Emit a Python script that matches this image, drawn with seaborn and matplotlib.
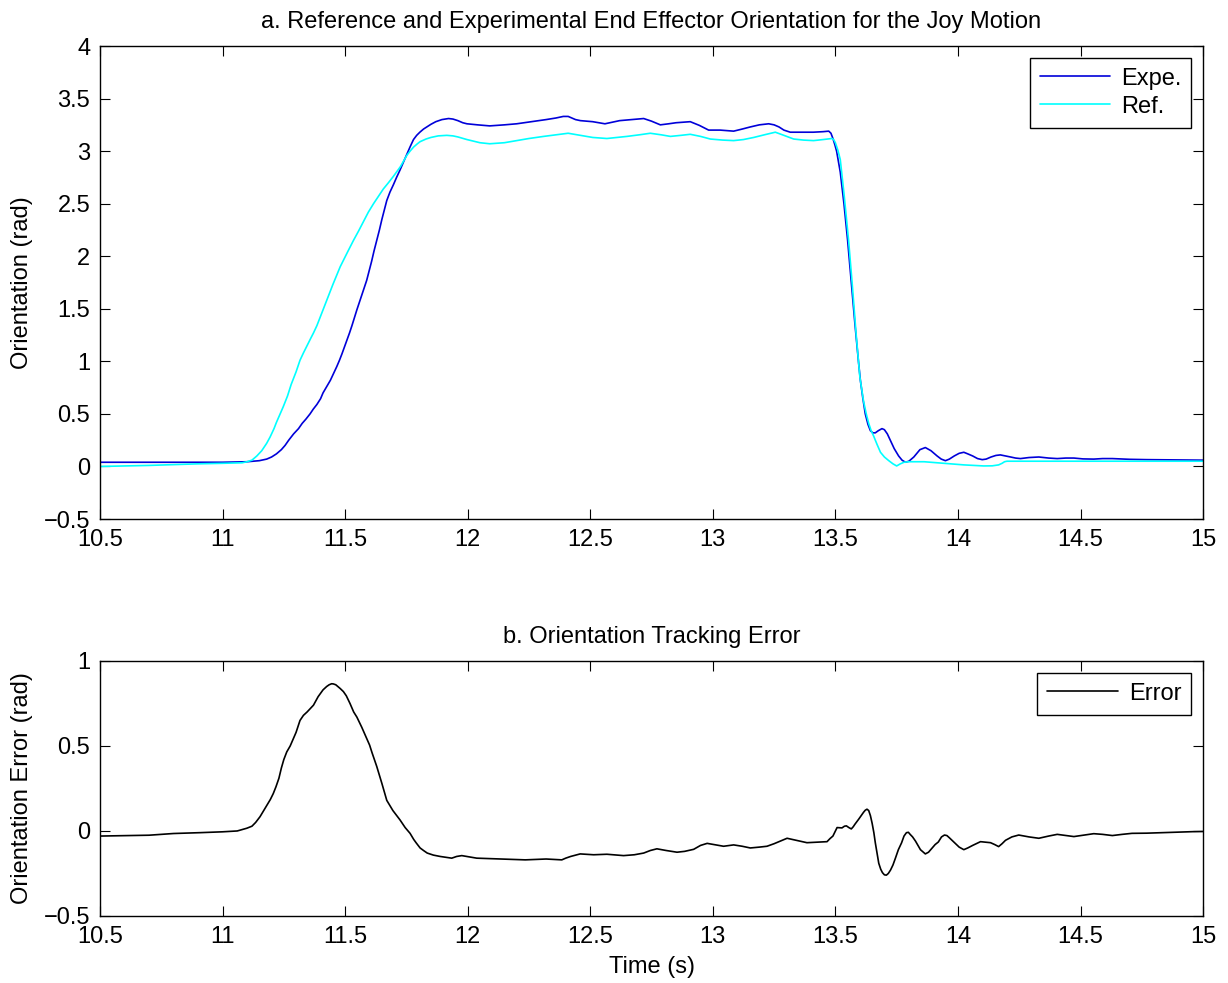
import numpy as np
import pandas as pd
import matplotlib
matplotlib.use("Agg")
import matplotlib.pyplot as plt
import seaborn as sns

# ---- Reference orientation (rad) ----
ref_t = [10.5, 10.7, 10.9, 11.0, 11.08, 11.10, 11.12, 11.14, 11.16, 11.18, 11.194, 11.21,
         11.22, 11.235, 11.248, 11.265, 11.28, 11.30, 11.316, 11.33, 11.345, 11.36, 11.371,
         11.385, 11.40, 11.425, 11.45, 11.48, 11.51, 11.534, 11.555, 11.575, 11.595, 11.616,
         11.636, 11.656, 11.677, 11.697, 11.725, 11.752, 11.765, 11.78, 11.795, 11.806, 11.83,
         11.85, 11.88, 11.915, 11.94, 11.96, 11.997, 12.05, 12.09, 12.15, 12.2, 12.25,
         12.31, 12.36, 12.41, 12.46, 12.51, 12.568, 12.65, 12.70, 12.745, 12.79, 12.827,
         12.87, 12.908, 12.95, 12.99, 13.04, 13.085, 13.125, 13.167, 13.21, 13.255, 13.29,
         13.33, 13.37, 13.411, 13.45, 13.486, 13.493, 13.50, 13.51, 13.52, 13.535, 13.554,
         13.57, 13.585, 13.60, 13.615, 13.626, 13.636, 13.646, 13.656, 13.67, 13.684, 13.70,
         13.718, 13.735, 13.75, 13.765, 13.78, 13.80, 13.862, 13.943, 14.024, 14.105, 14.14,
         14.166, 14.18, 14.19, 14.2, 14.3, 14.5, 14.75, 15.0]
ref_v = [0.00, 0.01, 0.025, 0.03, 0.035, 0.045, 0.06, 0.10, 0.15, 0.22, 0.28, 0.36,
         0.42, 0.50, 0.57, 0.67, 0.78, 0.90, 1.01, 1.08, 1.15, 1.22, 1.27,
         1.34, 1.43, 1.58, 1.73, 1.90, 2.04, 2.15, 2.24, 2.33, 2.42, 2.50,
         2.57, 2.64, 2.70, 2.76, 2.85, 2.96, 3.00, 3.04, 3.07, 3.09, 3.115,
         3.13, 3.145, 3.15, 3.145, 3.135, 3.11, 3.08, 3.07, 3.08, 3.10, 3.12,
         3.14, 3.155, 3.17, 3.15, 3.13, 3.12, 3.14, 3.155, 3.17, 3.155, 3.14,
         3.15, 3.16, 3.14, 3.115, 3.105, 3.10, 3.11, 3.13, 3.155, 3.18, 3.15,
         3.115, 3.105, 3.10, 3.11, 3.12, 3.11, 3.08, 3.01, 2.92, 2.60, 2.15,
         1.70, 1.25, 0.85, 0.62, 0.50, 0.41, 0.34, 0.29, 0.21, 0.135, 0.09,
         0.055, 0.025, 0.005, 0.025, 0.04, 0.045, 0.045, 0.03, 0.015, 0.005, 0.006,
         0.015, 0.03, 0.045, 0.05, 0.05, 0.05, 0.05, 0.05]

# ---- Experimental orientation (rad) ----
exp_t = [10.5, 10.8, 11.0, 11.1, 11.15, 11.18, 11.20, 11.22, 11.24, 11.255, 11.27, 11.29,
         11.31, 11.325, 11.34, 11.357, 11.37, 11.385, 11.40, 11.41, 11.425, 11.44, 11.453,
         11.466, 11.477, 11.487, 11.497, 11.507, 11.518, 11.528, 11.538, 11.548, 11.558, 11.568,
         11.578, 11.588, 11.598, 11.608, 11.618, 11.629, 11.64, 11.65, 11.66, 11.67, 11.683,
         11.697, 11.71, 11.724, 11.737, 11.75, 11.765, 11.779, 11.792, 11.805, 11.82, 11.833,
         11.85, 11.87, 11.895, 11.922, 11.94, 11.96, 11.98, 11.997, 12.04, 12.09, 12.15,
         12.2, 12.26, 12.32, 12.36, 12.39, 12.41, 12.425, 12.44, 12.46, 12.51, 12.56,
         12.59, 12.62, 12.67, 12.718, 12.75, 12.786, 12.82, 12.85, 12.908, 12.945, 12.983,
         13.03, 13.085, 13.12, 13.153, 13.19, 13.228, 13.25, 13.27, 13.29, 13.316, 13.36,
         13.41, 13.45, 13.473, 13.482, 13.49, 13.498, 13.505, 13.52, 13.535, 13.55, 13.565,
         13.58, 13.595, 13.602, 13.612, 13.622, 13.633, 13.643, 13.653, 13.663, 13.675, 13.69,
         13.70, 13.712, 13.724, 13.74, 13.758, 13.772, 13.786, 13.80, 13.82, 13.845, 13.867,
         13.89, 13.915, 13.932, 13.949, 13.965, 13.985, 14.005, 14.024, 14.04, 14.06, 14.08,
         14.099, 14.115, 14.135, 14.155, 14.173, 14.195, 14.215, 14.235, 14.255, 14.29, 14.33,
         14.37, 14.405, 14.44, 14.473, 14.51, 14.554, 14.59, 14.63, 14.7, 14.77, 14.88, 15.0]
exp_v = [0.04, 0.04, 0.04, 0.045, 0.055, 0.07, 0.09, 0.12, 0.16, 0.20, 0.25, 0.31,
         0.36, 0.41, 0.45, 0.50, 0.545, 0.59, 0.645, 0.70, 0.76, 0.82, 0.885,
         0.95, 1.01, 1.07, 1.135, 1.20, 1.27, 1.34, 1.415, 1.49, 1.56, 1.63,
         1.70, 1.77, 1.86, 1.95, 2.05, 2.15, 2.25, 2.35, 2.44, 2.53, 2.61,
         2.68, 2.75, 2.82, 2.89, 2.96, 3.04, 3.11, 3.15, 3.18, 3.21, 3.23,
         3.255, 3.28, 3.30, 3.31, 3.305, 3.29, 3.27, 3.26, 3.25, 3.24, 3.25,
         3.26, 3.28, 3.30, 3.315, 3.33, 3.33, 3.315, 3.30, 3.29, 3.28, 3.26,
         3.275, 3.29, 3.30, 3.31, 3.285, 3.25, 3.26, 3.27, 3.28, 3.245, 3.20,
         3.20, 3.19, 3.21, 3.23, 3.25, 3.26, 3.25, 3.23, 3.20, 3.18, 3.18,
         3.18, 3.185, 3.19, 3.17, 3.12, 3.06, 3.00, 2.80, 2.50, 2.15, 1.75,
         1.35, 0.98, 0.82, 0.65, 0.50, 0.40, 0.34, 0.32, 0.32, 0.34, 0.36,
         0.35, 0.31, 0.25, 0.17, 0.10, 0.06, 0.04, 0.05, 0.09, 0.16, 0.18,
         0.15, 0.10, 0.07, 0.055, 0.07, 0.10, 0.125, 0.135, 0.12, 0.10, 0.075,
         0.065, 0.07, 0.09, 0.105, 0.11, 0.10, 0.09, 0.08, 0.075, 0.085, 0.09,
         0.08, 0.075, 0.08, 0.08, 0.072, 0.07, 0.075, 0.075, 0.068, 0.065, 0.063, 0.06]

# ---- Tracking error (rad) ----
err_t = [10.5, 10.7, 10.8, 10.908, 11.0, 11.06, 11.099, 11.12, 11.135, 11.153, 11.168, 11.18,
         11.195, 11.207, 11.218, 11.23, 11.24, 11.25, 11.262, 11.276, 11.288, 11.30, 11.316,
         11.33, 11.345, 11.358, 11.371, 11.39, 11.41, 11.425, 11.435, 11.445, 11.452, 11.462,
         11.47, 11.48, 11.493, 11.505, 11.52, 11.535, 11.548, 11.568, 11.588, 11.60, 11.61,
         11.629, 11.65, 11.67, 11.695, 11.724, 11.745, 11.765, 11.78, 11.79, 11.806, 11.82,
         11.835, 11.86, 11.888, 11.935, 11.955, 11.976, 12.037, 12.13, 12.235, 12.32, 12.384,
         12.40, 12.42, 12.459, 12.514, 12.568, 12.636, 12.68, 12.718, 12.745, 12.772, 12.81,
         12.854, 12.885, 12.922, 12.95, 12.977, 13.044, 13.085, 13.12, 13.153, 13.19, 13.221,
         13.25, 13.276, 13.303, 13.34, 13.384, 13.466, 13.478, 13.49, 13.507, 13.527, 13.537,
         13.545, 13.555, 13.565, 13.573, 13.58, 13.595, 13.605, 13.615, 13.622, 13.629, 13.636,
         13.643, 13.650, 13.657, 13.663, 13.67, 13.677, 13.685, 13.692, 13.70, 13.708, 13.716,
         13.725, 13.735, 13.745, 13.757, 13.77, 13.78, 13.79, 13.798, 13.805, 13.815, 13.827,
         13.847, 13.867, 13.88, 13.895, 13.907, 13.92, 13.933, 13.945, 13.955, 13.965, 13.983,
         14.005, 14.024, 14.04, 14.06, 14.092, 14.133, 14.15, 14.166, 14.18, 14.194, 14.22,
         14.248, 14.29, 14.33, 14.37, 14.405, 14.44, 14.473, 14.51, 14.554, 14.59, 14.63,
         14.67, 14.71, 14.77, 14.83, 14.9, 14.96, 15.0]
err_v = [-0.03, -0.025, -0.015, -0.01, -0.005, 0.0, 0.016, 0.028, 0.05, 0.084, 0.12, 0.15,
         0.185, 0.22, 0.26, 0.31, 0.37, 0.42, 0.465, 0.50, 0.54, 0.58, 0.65,
         0.68, 0.70, 0.72, 0.74, 0.79, 0.83, 0.85, 0.86, 0.866, 0.865, 0.86,
         0.85, 0.838, 0.82, 0.795, 0.75, 0.70, 0.67, 0.61, 0.545, 0.505, 0.46,
         0.38, 0.28, 0.18, 0.12, 0.065, 0.02, -0.014, -0.05, -0.07, -0.10, -0.115,
         -0.13, -0.142, -0.15, -0.16, -0.15, -0.145, -0.16, -0.165, -0.17, -0.165, -0.17,
         -0.16, -0.15, -0.135, -0.14, -0.137, -0.145, -0.14, -0.13, -0.115, -0.105, -0.115,
         -0.125, -0.12, -0.108, -0.085, -0.073, -0.09, -0.082, -0.09, -0.10, -0.095, -0.09,
         -0.075, -0.059, -0.043, -0.055, -0.069, -0.063, -0.045, -0.03, 0.02, 0.018, 0.028,
         0.03, 0.02, 0.012, 0.025, 0.04, 0.069, 0.09, 0.11, 0.122, 0.128, 0.12,
         0.09, 0.045, -0.01, -0.07, -0.13, -0.19, -0.225, -0.245, -0.258, -0.26, -0.25,
         -0.23, -0.20, -0.16, -0.11, -0.07, -0.03, -0.01, -0.008, -0.02, -0.035, -0.06,
         -0.11, -0.135, -0.125, -0.10, -0.08, -0.065, -0.035, -0.024, -0.027, -0.04, -0.065,
         -0.095, -0.11, -0.10, -0.085, -0.063, -0.069, -0.08, -0.092, -0.075, -0.055, -0.035,
         -0.024, -0.035, -0.043, -0.03, -0.02, -0.027, -0.033, -0.025, -0.016, -0.02, -0.027,
         -0.02, -0.014, -0.013, -0.01, -0.007, -0.004, -0.003]

x_ticks = [10.5, 11, 11.5, 12, 12.5, 13, 13.5, 14, 14.5, 15]
x_tick_labels = ["10.5", "11", "11.5", "12", "12.5", "13", "13.5", "14", "14.5", "15"]
top_y_ticks = [-0.5, 0, 0.5, 1, 1.5, 2, 2.5, 3, 3.5, 4]
top_y_tick_labels = ["\u22120.5", "0", "0.5", "1", "1.5", "2", "2.5", "3", "3.5", "4"]
bot_y_ticks = [-0.5, 0, 0.5, 1]
bot_y_tick_labels = ["\u22120.5", "0", "0.5", "1"]

sns.set_style("ticks")
plt.rcParams['font.family'] = ['Liberation Sans', 'DejaVu Sans']
plt.rcParams['axes.edgecolor'] = 'black'
plt.rcParams['xtick.color'] = 'black'
plt.rcParams['ytick.color'] = 'black'
plt.rcParams['text.color'] = 'black'
plt.rcParams['axes.labelcolor'] = 'black'

FS = 17
BLUE = (0.0, 0.0, 0.85)
CYAN = (0.0, 1.0, 1.0)

fig = plt.figure(figsize=(12.28, 9.83), dpi=100)
ax1 = fig.add_axes([0.0814, 0.472, 0.8983, 0.4812])
ax2 = fig.add_axes([0.0814, 0.0682, 0.8983, 0.2594])

df_exp = pd.DataFrame({"t": exp_t, "v": exp_v})
df_ref = pd.DataFrame({"t": ref_t, "v": ref_v})
df_err = pd.DataFrame({"t": err_t, "v": err_v})

sns.lineplot(data=df_exp, x="t", y="v", color=BLUE, lw=1.2, label="Expe.", ax=ax1)
sns.lineplot(data=df_ref, x="t", y="v", color=CYAN, lw=1.2, label="Ref.", ax=ax1)
sns.lineplot(data=df_err, x="t", y="v", color="black", lw=1.2, label="Error", ax=ax2)

def style_axes(ax, yticks, ylabels, ylim):
    ax.set_xlim(10.5, 15)
    ax.set_ylim(*ylim)
    ax.set_xticks(x_ticks)
    ax.set_xticklabels(x_tick_labels)
    ax.set_yticks(yticks)
    ax.set_yticklabels(ylabels)
    ax.tick_params(direction="in", length=7.5, width=0.8, labelsize=FS,
                   top=True, right=True, pad=7)
    for sp in ax.spines.values():
        sp.set_visible(True)
        sp.set_linewidth(1.0)
        sp.set_color("black")
    leg = ax.legend(loc="upper right", fancybox=False, edgecolor="black",
                    framealpha=1, fontsize=FS, handlelength=3.0,
                    handletextpad=0.45, borderaxespad=0.5, borderpad=0.42,
                    labelspacing=0.25)
    leg.get_frame().set_linewidth(1.0)

style_axes(ax1, top_y_ticks, top_y_tick_labels, (-0.5, 4))
style_axes(ax2, bot_y_ticks, bot_y_tick_labels, (-0.5, 1))

ax1.set_title("a. Reference and Experimental End Effector Orientation for the Joy Motion",
              fontsize=FS, pad=13)
ax2.set_title("b. Orientation Tracking Error", fontsize=FS, pad=13)
ax1.set_xlabel("")
ax1.set_ylabel("Orientation (rad)", fontsize=FS, labelpad=8)
ax2.set_xlabel("Time (s)", fontsize=FS, labelpad=6)
ax2.set_ylabel("Orientation Error (rad)", fontsize=FS, labelpad=8)

fig.savefig("out.png", dpi=100, facecolor="white")
